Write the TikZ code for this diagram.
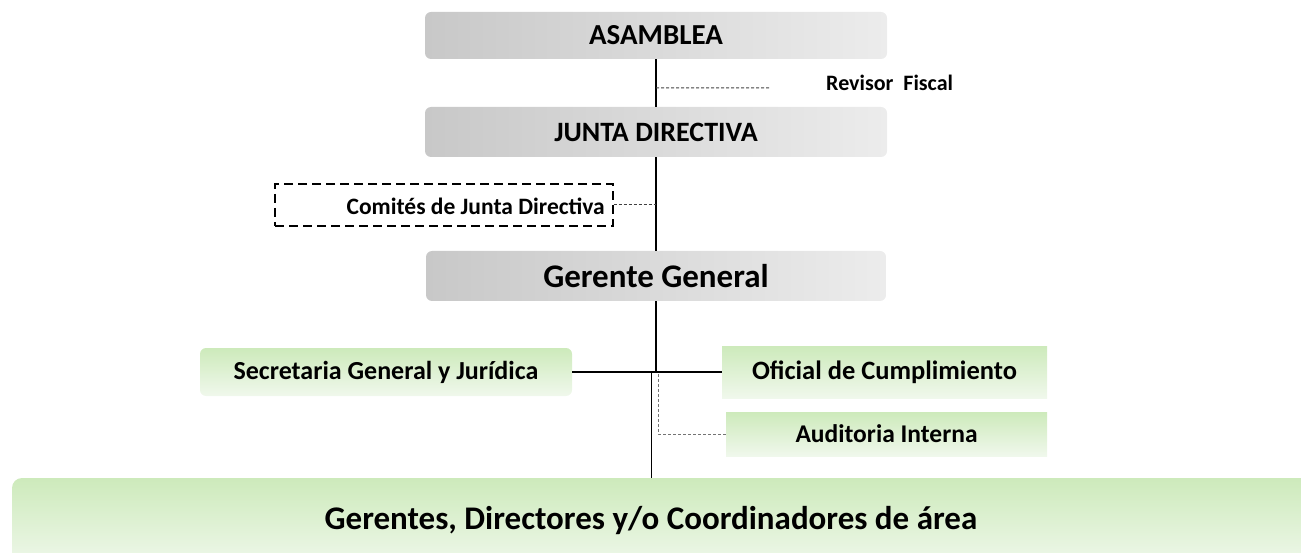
\documentclass[tikz,border=0pt]{standalone}
\usepackage{fontspec}
\setmainfont{Carlito}
\usepackage{xcolor}
\usepackage{tikz}
\usetikzlibrary{calc}

\definecolor{grisA}{RGB}{200,200,200}
\definecolor{grisB}{RGB}{236,236,236}
\definecolor{verdeA}{RGB}{205,234,187}
\definecolor{verdeB}{RGB}{240,248,236}

\begin{document}
\begin{tikzpicture}[x=1pt, y=-1pt,
	gris/.style={rectangle, rounded corners=6pt, left color=grisA, right color=grisB, draw=none, inner sep=0pt},
	verde/.style={rectangle, top color=verdeA, bottom color=verdeB, draw=none, inner sep=0pt},
	linea/.style={line width=1.3pt, black},
	punteada/.style={dash pattern=on 3pt off 2pt, line width=1pt, black!75}]

\useasboundingbox (0,0) rectangle (1301,553);

\node[gris, minimum width=462pt, minimum height=47pt, font=\bfseries\fontsize{29}{32}\selectfont] (asamblea) at (656,35.5) {ASAMBLEA};
\node[gris, minimum width=462pt, minimum height=50pt, font=\bfseries\fontsize{28}{32}\selectfont] (junta) at (656,132) {JUNTA DIRECTIVA};
\node[gris, minimum width=460pt, minimum height=50pt, font=\bfseries\fontsize{33}{38}\selectfont] (gerente) at (656,276) {Gerente General};

\node[anchor=west, font=\bfseries\fontsize{22}{26}\selectfont, inner sep=0pt] (revisor) at (826,83) {Revisor\ \ Fiscal};
\node[draw, dash pattern=on 9pt off 5pt, line width=1.4pt, minimum width=338pt, minimum height=42pt, inner sep=0pt] (comites) at (444,205) {};
\node[anchor=east, font=\bfseries\fontsize{23.5}{27}\selectfont, inner sep=0pt] (comitestxt) at (605,206) {Comités de Junta Directiva};

\node[verde, rounded corners=6pt, minimum width=372pt, minimum height=48pt, font=\bfseries\fontsize{26}{30}\selectfont] (secretaria) at (386,372) {Secretaria General y Jurídica};
\node[verde, minimum width=325pt, minimum height=52pt, font=\bfseries\fontsize{26.5}{30}\selectfont] (oficial) at (884.5,372) {Oficial de Cumplimiento};
\node[verde, minimum width=321pt, minimum height=44pt, font=\bfseries\fontsize{25.5}{30}\selectfont] (auditoria) at (886.5,434) {Auditoria Interna};
\node[verde, rounded corners=10pt, minimum width=1300pt, minimum height=90pt] (areas) at (662,523) {};
\node[font=\bfseries\fontsize{33}{38}\selectfont, inner sep=0pt] (areastxt) at (651,521) {Gerentes, Directores y/o Coordinadores de área};

\coordinate (rf1) at ($(asamblea.south)!0.6!(junta.north)$);
\coordinate (rf2) at (770,88);
\coordinate (cj) at (comites.east -| junta.south);
\coordinate (hub) at (656,372);
\coordinate (hubb) at (651,372);
\coordinate (ai1) at (658,374);
\coordinate (ai2) at (658,434);

% lineas de mando
\draw[linea] (asamblea.south) -- (junta.north);
\draw[linea] (junta.south) -- (gerente.north);
\draw[linea] (gerente.south) -- (hub);
\draw[linea] (secretaria.east) -- (hub) -- (oficial.west);
\draw[linea, line width=1pt] (hubb) -- (hubb |- areas.north);

% lineas de apoyo
\draw[punteada] (rf1) -- (rf2);
\draw[punteada] (comites.east) -- (cj);
\draw[punteada, black!55] (ai1) -- (ai2) -- (auditoria.west);

\end{tikzpicture}
\end{document}
